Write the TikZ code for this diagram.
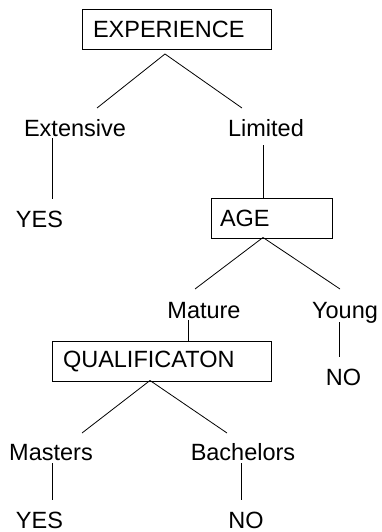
\documentclass[tikz,border=0pt]{standalone}
\usepackage{fontspec}
\setmainfont{Liberation Sans}
\begin{document}
\begin{tikzpicture}[x=1pt,y=-1pt,
  every node/.style={font=\fontsize{23.5}{28}\selectfont},
  lbl/.style={inner sep=0pt, anchor=base},
  box/.style={draw, line width=0.9pt, minimum height=40pt, align=left, inner ysep=0pt},
  conn/.style={line width=0.8pt}]
\useasboundingbox (0,0) rectangle (382,532);
% boxes
\node[box, inner xsep=11pt, text width=167pt] (exp) at (176.5,29) {EXPERIENCE};
\node[box, inner xsep=9pt, text width=103pt] (age) at (271.5,218.5) {AGE};
\node[box, inner xsep=11pt, text width=197pt] (qual) at (161.5,361.5) {QUALIFICATON};
% labels
\node[lbl] (ext) at (75,136) {Extensive};
\node[lbl] (lim) at (266,136) {Limited};
\node[lbl] (yes1) at (39.5,227) {YES};
\node[lbl] (mat) at (204,318) {Mature};
\node[lbl] (yng) at (345,318) {Young};
\node[lbl] (no1) at (343.5,385) {NO};
\node[lbl] (mas) at (51,460) {Masters};
\node[lbl] (bac) at (243,460) {Bachelors};
\node[lbl] (yes2) at (39.5,528) {YES};
\node[lbl] (no2) at (246,528) {NO};
% connector points
\coordinate (a1) at (165,54);
\coordinate (e1) at (97,108);
\coordinate (l1) at (242,108);
\coordinate (ex1) at (52,138);
\coordinate (ex2) at (52,199);
\coordinate (li1) at (263,145);
\coordinate (a2) at (263,237.5);
\coordinate (m1) at (195,289);
\coordinate (y1) at (340,289);
\coordinate (ma1) at (188,320);
\coordinate (yo1) at (339,322);
\coordinate (yo2) at (339,357);
\coordinate (a3) at (150,380.5);
\coordinate (q1) at (82,433);
\coordinate (q2) at (227,433);
\coordinate (ms1) at (52,463);
\coordinate (ms2) at (52,500);
\coordinate (bc1) at (241,463);
\coordinate (bc2) at (241,500);
% connectors
\draw[conn] (e1) -- (a1) -- (l1);
\draw[conn] (ex1) -- (ex2);
\draw[conn] (li1) -- (li1 |- age.north);
\draw[conn] (m1) -- (a2) -- (y1);
\draw[conn] (ma1) -- (ma1 |- qual.north);
\draw[conn] (yo1) -- (yo2);
\draw[conn] (q1) -- (a3) -- (q2);
\draw[conn] (ms1) -- (ms2);
\draw[conn] (bc1) -- (bc2);
\end{tikzpicture}
\end{document}
